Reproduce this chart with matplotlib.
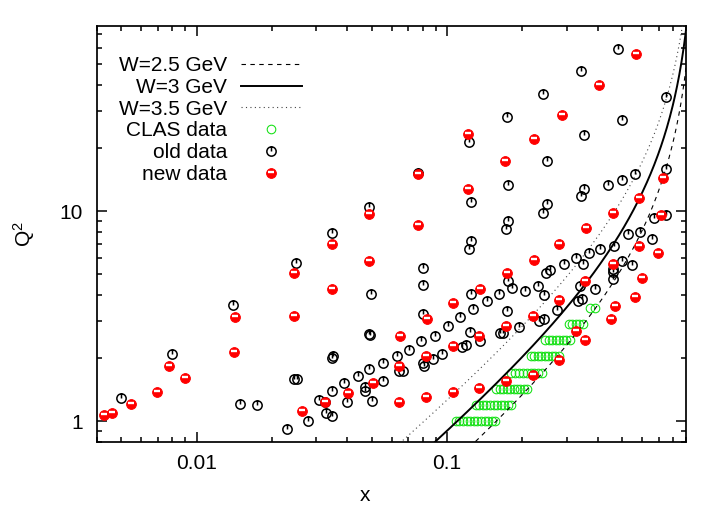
import numpy as np
import matplotlib
matplotlib.use('Agg')
import matplotlib.pyplot as plt
from matplotlib.path import Path
from matplotlib.legend_handler import HandlerTuple
from matplotlib.ticker import FixedLocator, FixedFormatter, NullFormatter

plt.rcParams['font.family'] = ['Liberation Sans', 'DejaVu Sans']
plt.rcParams['mathtext.default'] = 'regular'
plt.rcParams['font.size'] = 15

# ---------------- data ----------------
W_values = [2.5, 3.0, 3.5]
W_labels = ['W=2.5 GeV', 'W=3 GeV', 'W=3.5 GeV']
proton_mass = 0.938

clas_x = [0.1084, 0.1119, 0.1159, 0.1197, 0.1236, 0.1280, 0.1321, 0.1368, 0.1413, 0.1459, 0.1510, 0.1560,
          0.1303, 0.1346, 0.1390, 0.1436, 0.1486, 0.1535, 0.1585, 0.1637, 0.1690, 0.1746, 0.1803,
          0.1574, 0.1626, 0.1675, 0.1730, 0.1786, 0.1845, 0.1901, 0.1963, 0.2023, 0.2089,
          0.1807, 0.1871, 0.1941, 0.2009, 0.2084, 0.2158, 0.2234, 0.2317, 0.2399,
          0.2163, 0.2234, 0.2307, 0.2382, 0.2460, 0.2541, 0.2624, 0.2710, 0.2799,
          0.2466, 0.2547, 0.2630, 0.2716, 0.2805, 0.2897, 0.2985, 0.3083,
          0.3055, 0.3162, 0.3266, 0.3373, 0.3491,
          0.3733, 0.3882]
clas_q2 = [1.0] * 12 + [1.2] * 11 + [1.43] * 10 + [1.7] * 9 + [2.04] * 9 + [2.43] * 8 + [2.92] * 5 + [3.47] * 2

old_x = [0.00497, 0.0080, 0.01393, 0.01496, 0.0174, 0.0249, 0.0245, 0.0251, 0.0229, 0.0279,
         0.0308, 0.0327, 0.0329, 0.0348, 0.0346, 0.0350, 0.0348, 0.0348,
         0.0800, 0.0804, 0.0497, 0.0486, 0.0492, 0.0800, 0.1247, 0.1274, 0.1127, 0.1011,
         0.0897, 0.0789, 0.0706, 0.0629, 0.0556, 0.0489, 0.0439, 0.0388, 0.0470, 0.0470,
         0.0556, 0.0399, 0.0500, 0.0643, 0.0669, 0.0800, 0.0810, 0.0877, 0.0953, 0.1145,
         0.1190, 0.1236, 0.1355,
         0.1224, 0.0768, 0.1247, 0.0489, 0.1247, 0.1220,
         0.482, 0.343, 0.242, 0.1733, 0.750, 0.501, 0.351, 0.2496, 0.175, 0.2504,
         0.351, 0.343, 0.441, 0.500, 0.5634, 0.750,
         0.2415, 0.175, 0.172, 0.328, 0.370, 0.407, 0.349, 0.292, 0.258, 0.249,
         0.175, 0.1815, 0.1618, 0.144, 0.205, 0.2298, 0.2445, 0.340, 0.388, 0.334,
         0.346, 0.275, 0.2445, 0.232, 0.193, 0.1733, 0.168, 0.162,
         0.751, 0.668, 0.592, 0.526, 0.659, 0.466, 0.500, 0.548, 0.461, 0.461, 0.461]
old_q2 = [1.29, 2.09, 3.59, 1.21, 1.19, 5.69, 1.59, 1.59, 0.916, 1.00,
          1.265, 1.23, 1.10, 7.83, 2.00, 2.04, 1.40, 1.06,
          5.37, 4.44, 4.02, 2.60, 2.57, 3.25, 4.05, 3.41, 3.13, 2.85,
          2.54, 2.41, 2.19, 2.035, 1.90, 1.78, 1.64, 1.52, 1.46, 1.39,
          1.55, 1.23, 1.255, 1.73, 1.73, 1.90, 1.83, 1.985, 2.08, 2.25,
          2.30, 2.66, 2.42,
          21.3, 15.2, 11.07, 10.5, 7.22, 6.59,
          59.0, 46.4, 35.9, 28.1, 35.1, 27.1, 22.96, 17.3, 13.27, 10.76,
          12.7, 11.8, 13.35, 14.06, 15.1, 15.8,
          9.82, 8.99, 8.2, 6.01, 6.35, 6.57, 5.59, 5.59, 5.27, 5.08,
          4.64, 4.33, 4.05, 3.74, 4.17, 4.39, 4.01, 4.39, 4.28, 3.74,
          3.83, 3.37, 3.08, 3.00, 2.81, 3.35, 2.64, 2.64,
          9.57, 9.23, 7.97, 7.77, 7.36, 6.81, 5.79, 5.53, 5.33, 5.13, 4.78]

new_x = [0.00426, 0.00458, 0.00548, 0.00697, 0.00778, 0.00895, 0.01406, 0.01428, 0.0244, 0.0244,
         0.0264, 0.0327, 0.0346, 0.0346, 0.0401, 0.0488, 0.0649, 0.106, 0.0832, 0.0822,
         0.0643, 0.1054, 0.0504, 0.0643, 0.0822, 0.1054,
         0.121, 0.0768, 0.121, 0.0764, 0.0486,
         0.569, 0.4055, 0.289, 0.2215, 0.171, 0.729, 0.582,
         0.360, 0.281, 0.2215, 0.1733, 0.1355, 0.357, 0.281, 0.2194, 0.172, 0.1342,
         0.328, 0.354, 0.279, 0.2194, 0.172, 0.1346,
         0.716, 0.458, 0.582, 0.694, 0.458, 0.601, 0.561, 0.470, 0.451]
new_q2 = [1.076, 1.092, 1.21, 1.38, 1.84, 1.60, 2.13, 3.13, 5.08, 3.17,
          1.12, 1.24, 7.01, 4.25, 1.37, 5.79, 2.56, 3.65, 3.07, 2.04,
          1.84, 2.28, 1.524, 1.237, 1.30, 1.375,
          23.3, 14.96, 12.7, 8.58, 9.71,
          55.9, 39.9, 28.6, 22.0, 17.3, 14.37, 11.5,
          8.27, 6.96, 5.84, 5.08, 4.28, 4.64, 3.79, 3.17, 2.85, 2.56,
          2.69, 2.44, 1.96, 1.67, 1.55, 1.443,
          9.57, 9.75, 6.81, 6.35, 5.59, 4.83, 3.90, 3.52, 3.08]

x_ticks = [0.01, 0.1]
x_tick_labels = ['0.01', '0.1']
y_ticks = [1, 10]
y_tick_labels = ['1', '10']

# ---------------- figure ----------------
fig = plt.figure(figsize=(7.21, 5.07), dpi=100)
ax = fig.add_axes([0.1345, 0.1288, 0.817, 0.8199])
ax.set_xscale('log')
ax.set_yscale('log')
ax.set_xlim(0.004, 0.9)
ax.set_ylim(0.8, 76)

green = '#11e011'
h_clas, = ax.plot(clas_x, clas_q2, ls='none', marker='o', mfc='none', mec=green,
                  ms=6.2, mew=0.75, zorder=2)

x_curve = np.logspace(np.log10(0.004), np.log10(0.8995), 800)
styles = [dict(ls=(0, (4, 4)), lw=0.8, color='black'),
          dict(ls='-', lw=1.4, color='black'),
          dict(ls=(0, (1, 3)), lw=0.8, color='#444444')]
curve_handles = []
for W, lab, st in zip(W_values, W_labels, styles):
    q2 = (W ** 2 - proton_mass ** 2) * x_curve / (1 - x_curve)
    h, = ax.plot(x_curve, q2, label=lab, zorder=3, **st)
    curve_handles.append(h)

circle = Path.unit_circle()
tick = Path([(0, 0), (0, 1)], [Path.MOVETO, Path.LINETO])
old_marker = Path.make_compound_path(circle, tick)
bar_marker = Path([(0, -1), (-0.7, 0.27), (0.7, 0.27)],
                  [Path.MOVETO, Path.MOVETO, Path.LINETO])

h_old, = ax.plot(old_x, old_q2, ls='none', marker=old_marker, mfc='none', mec='black',
                 ms=6.7, mew=1.1, zorder=4)
h_new, = ax.plot(new_x, new_q2, ls='none', marker='o', mfc='#ff0000', mec='#ff0000',
                 ms=7.1, mew=0.6, zorder=5)
h_bar, = ax.plot(new_x, new_q2, ls='none', marker=bar_marker, mfc='none', mec='white',
                 ms=7.1, mew=1.7, zorder=6)

# axes styling
for sp in ax.spines.values():
    sp.set_linewidth(1.25)
ax.xaxis.set_major_locator(FixedLocator(x_ticks))
ax.xaxis.set_major_formatter(FixedFormatter(x_tick_labels))
ax.xaxis.set_minor_formatter(NullFormatter())
ax.yaxis.set_major_locator(FixedLocator(y_ticks))
ax.yaxis.set_major_formatter(FixedFormatter(y_tick_labels))
ax.yaxis.set_minor_formatter(NullFormatter())
ax.tick_params(which='both', direction='in', top=True, right=True, width=1.1)
ax.tick_params(which='major', length=7, labelsize=15)
ax.tick_params(which='minor', length=3.5)
ax.tick_params(axis='x', which='major', pad=9)
ax.tick_params(axis='y', which='major', pad=10)

ax.set_xlabel('x', fontsize=15)
ax.set_ylabel('Q$^2$', fontsize=15)
ax.xaxis.set_label_coords(0.455, -0.107)
ax.yaxis.set_label_coords(-0.102, 0.5)

leg = ax.legend(curve_handles + [h_clas, h_old, (h_new, h_bar)],
                W_labels + ['CLAS data', 'old data', 'new data'],
                handler_map={tuple: HandlerTuple(ndivide=1)},
                loc='upper right', bbox_to_anchor=(0.348, 0.927),
                frameon=False, markerfirst=False, numpoints=1,
                handlelength=2.93, handletextpad=0.67, labelspacing=0.13,
                borderpad=0, borderaxespad=0, fontsize=15)

fig.savefig('out.png', dpi=100)
